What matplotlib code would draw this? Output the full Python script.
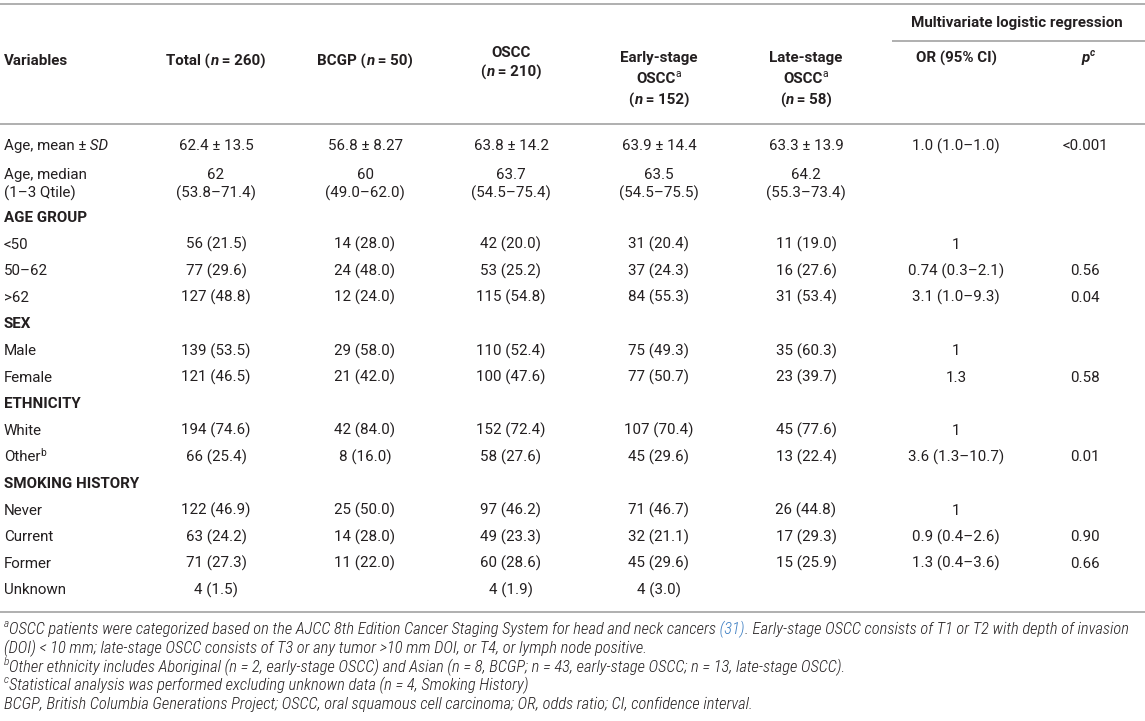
import matplotlib
matplotlib.use('Agg')
import matplotlib.pyplot as plt
from matplotlib import font_manager

# ---- table data ----
group_names = ['Total', 'BCGP', 'OSCC', 'Early-stage OSCC', 'Late-stage OSCC']
group_n = [260, 50, 210, 152, 58]

age_mean = ['62.4 ± 13.5', '56.8 ± 8.27', '63.8 ± 14.2', '63.9 ± 14.4', '63.3 ± 13.9']
age_mean_or = '1.0 (1.0–1.0)'
age_mean_p = '<0.001'
age_median = ['62', '60', '63.7', '63.5', '64.2']
age_qtile = ['(53.8–71.4)', '(49.0–62.0)', '(54.5–75.4)', '(54.5–75.5)', '(55.3–73.4)']

age_levels = ['<50', '50–62', '>62']
age_counts = [[56, 14, 42, 31, 11], [77, 24, 53, 37, 16], [127, 12, 115, 84, 31]]
age_pct = [[21.5, 28.0, 20.0, 20.4, 19.0], [29.6, 48.0, 25.2, 24.3, 27.6], [48.8, 24.0, 54.8, 55.3, 53.4]]
age_or = ['1', '0.74 (0.3–2.1)', '3.1 (1.0–9.3)']
age_p = ['', '0.56', '0.04']

sex_levels = ['Male', 'Female']
sex_counts = [[139, 29, 110, 75, 35], [121, 21, 100, 77, 23]]
sex_pct = [[53.5, 58.0, 52.4, 49.3, 60.3], [46.5, 42.0, 47.6, 50.7, 39.7]]
sex_or = ['1', '1.3']
sex_p = ['', '0.58']

eth_levels = ['White', 'Other']
eth_counts = [[194, 42, 152, 107, 45], [66, 8, 58, 45, 13]]
eth_pct = [[74.6, 84.0, 72.4, 70.4, 77.6], [25.4, 16.0, 27.6, 29.6, 22.4]]
eth_or = ['1', '3.6 (1.3–10.7)']
eth_p = ['', '0.01']

smk_levels = ['Never', 'Current', 'Former', 'Unknown']
smk_counts = [[122, 25, 97, 71, 26], [63, 14, 49, 32, 17], [71, 11, 60, 45, 15], [4, None, 4, 4, None]]
smk_pct = [[46.9, 50.0, 46.2, 46.7, 44.8], [24.2, 28.0, 23.3, 21.1, 29.3],
           [27.3, 22.0, 28.6, 29.6, 25.9], [1.5, None, 1.9, 3.0, None]]
smk_or = ['1', '0.9 (0.4–2.6)', '1.3 (0.4–3.6)', '']
smk_p = ['', '0.90', '0.66', '']

level_marks = {'Other': 'b'}

footnotes = [
    [('a', 'sup'), ('OSCC patients were categorized based on the AJCC 8th Edition Cancer Staging System '
                    'for head and neck cancers', ''), (' (31)', 'link'),
     ('. Early-stage OSCC consists of T1 or T2 with depth of invasion', '')],
    [('(DOI) < 10 mm; late-stage OSCC consists of T3 or any tumor >10 mm DOI, or T4, or lymph node positive.', '')],
    [('b', 'sup'), ('Other ethnicity includes Aboriginal (n = 2, early-stage OSCC) and Asian (n = 8, BCGP; '
                    'n = 43, early-stage OSCC; n = 13, late-stage OSCC).', '')],
    [('c', 'sup'), ('Statistical analysis was performed excluding unknown data (n = 4, Smoking History)', '')],
    [('BCGP, British Columbia Generations Project; OSCC, oral squamous cell carcinoma; OR, odds ratio; '
      'CI, confidence interval.', '')],
]

# ---- look ----
INK = '#231f20'
RULE = '#a9a9a9'
LINK = '#3d7ec2'
MAIN = 'Roboto'
BODY = 10.9

fonts = font_manager.fontManager.ttflist
available = {f.name for f in fonts}
NOTE_FONT = 'Liberation Sans'
for cand in ['Roboto Condensed', 'Liberation Sans Narrow', 'DejaVu Sans Condensed']:
    if cand in available:
        NOTE_FONT = cand
        break
# the footnotes in the reference are set in a light condensed italic
NOTE_WEIGHT = 'light' if any(f.name == NOTE_FONT and f.weight == 300 for f in fonts) else 'normal'

W, H = 1145, 721
fig = plt.figure(figsize=(W / 100, H / 100), dpi=100)
ax = fig.add_axes([0, 0, 1, 1])
ax.set_xlim(0, W)
ax.set_ylim(H, 0)
ax.axis('off')
renderer = fig.canvas.get_renderer()


def rich(x, y, parts, ha='center', size=BODY, family=MAIN, weight='normal', italic=False):
    # parts: list of strings or (string, dict) ; dict may hold sup / weight / style / color
    items = []
    for p in parts:
        if isinstance(p, str):
            p = (p, {})
        s, st = p
        st = dict(st)
        sup = st.pop('sup', False)
        fs = size * 0.68 if sup else size
        dy = -size * 100 / 72 * 0.32 if sup else 0
        t = ax.text(0, y + dy, s, fontsize=fs, family=st.pop('family', family),
                    color=st.pop('color', INK), va='center', ha='left',
                    fontweight=st.pop('weight', weight),
                    fontstyle=st.pop('style', 'italic' if italic else 'normal'))
        items.append(t)
    widths = [t.get_window_extent(renderer).width for t in items]
    total = sum(widths)
    x0 = x - total / 2 if ha == 'center' else x
    for t, w in zip(items, widths):
        t.set_x(x0)
        x0 += w
    return items, total


def rule(x0, x1, y):
    ax.plot([x0, x1], [y, y], color=RULE, lw=1.3, solid_capstyle='butt')


label_x = 4
col_x = [216, 365, 511, 659, 806]
or_x, p_x = 956, 1085

# ---- rules ----
rule(0, W, 4)
rule(892, W, 41)
rule(0, W, 124)
rule(0, W, 612)

# ---- header ----
B = {'weight': 'bold'}
BI = {'weight': 'bold', 'style': 'italic'}
SUPN = {'sup': True}
rich(label_x, 61, [('Variables', B)], ha='left')
rich(col_x[0], 61, [('Total (', B), ('n', BI), (f' = {group_n[0]})', B)])
rich(col_x[1], 61, [('BCGP (', B), ('n', BI), (f' = {group_n[1]})', B)])
rich(col_x[2], 53, [('OSCC', B)])
rich(col_x[2], 72, [('(', B), ('n', BI), (f' = {group_n[2]})', B)])
for cx, name, n in zip(col_x[3:], group_names[3:], group_n[3:]):
    stage, base = name.split(' ')
    rich(cx, 58, [(stage, B)])
    rich(cx, 79, [(base, B), ('a', SUPN)])
    rich(cx, 100, [('(', B), ('n', BI), (f' = {n})', B)])
rich((or_x + p_x) / 2 - 4, 23, [('Multivariate logistic regression', B)])
rich(or_x, 58, [('OR (95% CI)', B)])
rich(p_x + 3, 58, [('p', BI), ('c', {'sup': True, 'weight': 'bold', 'style': 'italic'})])

# ---- age rows ----
rich(label_x, 146, ['Age, mean ±', (' SD', {'style': 'italic'})], ha='left')
for cx, v in zip(col_x, age_mean):
    rich(cx, 146, [v])
rich(or_x, 146, [age_mean_or])
rich(p_x, 146, [age_mean_p])

rich(label_x, 175, ['Age, median'], ha='left')
rich(label_x, 193, ['(1–3 Qtile)'], ha='left')
for cx, m, q in zip(col_x, age_median, age_qtile):
    rich(cx, 175, [m])
    rich(cx, 193, [q])

# ---- categorical sections ----
sections = [
    ('AGE GROUP', age_levels, age_counts, age_pct, age_or, age_p),
    ('SEX', sex_levels, sex_counts, sex_pct, sex_or, sex_p),
    ('ETHNICITY', eth_levels, eth_counts, eth_pct, eth_or, eth_p),
    ('SMOKING HISTORY', smk_levels, smk_counts, smk_pct, smk_or, smk_p),
]
y = 218
step = 26.6
for title, levels, counts, pcts, ors, ps in sections:
    rich(label_x, y, [(title, B)], ha='left')
    y += step
    for i, lev in enumerate(levels):
        parts = [lev]
        if lev in level_marks:
            parts.append((level_marks[lev], {'sup': True}))
        rich(label_x, y, parts, ha='left')
        for j, cx in enumerate(col_x):
            if counts[i][j] is None:
                continue
            rich(cx, y, [f'{counts[i][j]} ({pcts[i][j]:.1f})'])
        if ors[i]:
            rich(or_x, y, [ors[i]])
        if ps[i]:
            rich(p_x, y, [ps[i]])
        y += step

# ---- footnotes ----
def note_parts(line):
    out = []
    for s, kind in line:
        st = {}
        if kind == 'sup':
            st['sup'] = True
        if kind == 'link':
            st['color'] = LINK
        out.append((s, st))
    return out


note_size = 10.0
items, width = rich(0, -100, note_parts(footnotes[0]), ha='left', size=note_size,
                    family=NOTE_FONT, weight=NOTE_WEIGHT, italic=True)
for t in items:
    t.remove()
note_size = note_size * 1128 / width

note_y = [629, 648, 667, 685.5, 704]
for line, ny in zip(footnotes, note_y):
    rich(label_x, ny, note_parts(line), ha='left', size=note_size, family=NOTE_FONT,
         weight=NOTE_WEIGHT, italic=True)

fig.savefig('out.png', dpi=100, facecolor='white')
